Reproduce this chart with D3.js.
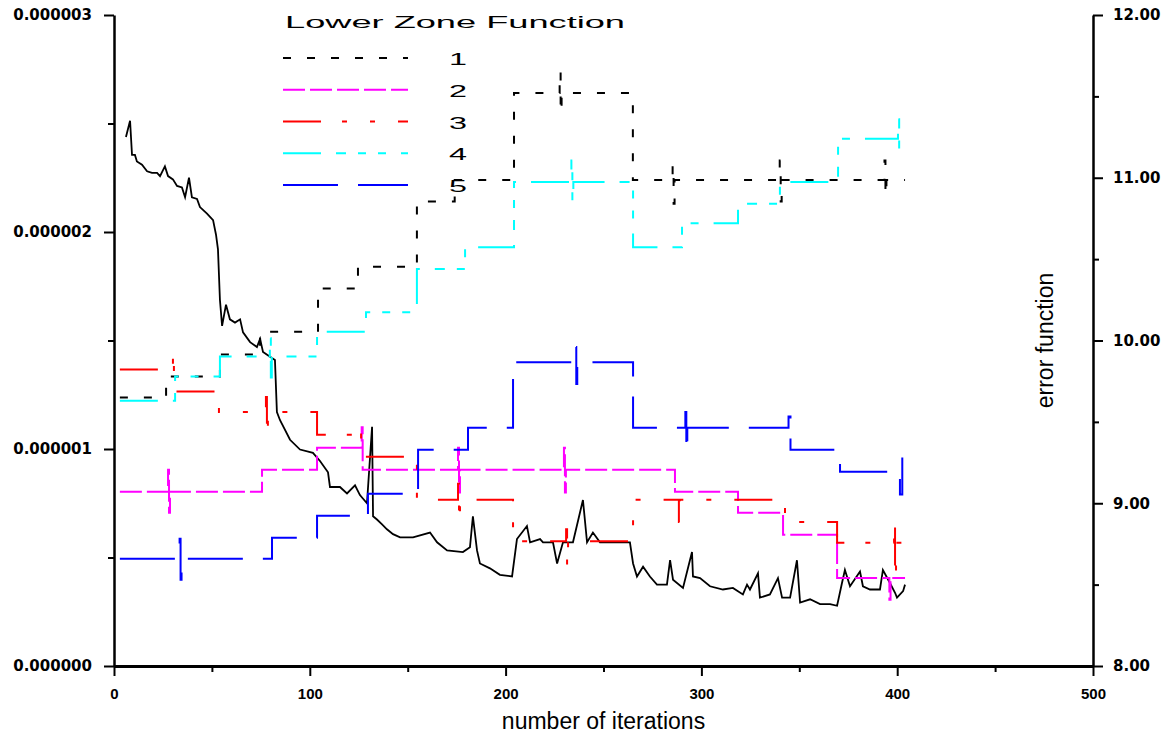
<!DOCTYPE html>
<html>
<head>
<meta charset="utf-8">
<script src="https://cdn.jsdelivr.net/npm/d3@7"></script>
<style>
  html, body { margin: 0; padding: 0; background: #fff; }
  svg { display: block; }
</style>
</head>
<body>
<svg id="chart" width="1169" height="742"></svg>
<script>
// Lower zone function parameters (left axis) and error function (right axis)
// plotted against the number of iterations.

const xTicks = [0, 100, 200, 300, 400, 500];
const xMinorTicks = [50, 150, 250, 350, 450];
const leftTicks = [0, 1e-6, 2e-6, 3e-6];
const leftMinorTicks = [0.5e-6, 1.5e-6, 2.5e-6];
const rightTicks = [8, 9, 10, 11, 12];
const rightMinorTicks = [8.5, 9.5, 10.5, 11.5];

const legendTitle = "Lower Zone Function";
const seriesNames = ["1", "2", "3", "4", "5"];
const seriesColors = ["#000000", "#ff00ff", "#ff0000", "#00ffff", "#0000ff"];
const seriesDashes = ["8,16", "22,5", "38,21,5,23,5,23", "38,15,10,12,8,12,8,15", "55,20"];

// step values, in units of 1e-6: [iteration, value]
const lowerZone1 = [[3,1.237],[26.6,1.334],[54.1,1.435],[74.6,1.54],[104.2,1.74],[124.6,1.84],[154.7,2.14],[174,2.24],[204.3,2.64],[227.6,2.74],[228.1,2.55],[228.6,2.64],[265,2.24],[285.3,2.31],[285.8,2.13],[286.3,2.24],[340,2.33],[340.5,2.14],[341,2.24],[393.5,2.33],[394,2.17],[394.5,2.24],[404,2.24]];
const lowerZone2 = [[3,0.803],[27.6,0.904],[28.1,0.706],[28.6,0.803],[75.6,0.904],[103.7,1.006],[126.5,1.10],[127,0.904],[175.7,1.006],[176.2,0.80],[176.7,0.904],[229.8,1.006],[230.3,0.80],[230.8,0.904],[286.5,0.803],[318.7,0.706],[341.7,0.605],[369.3,0.406],[396,0.305],[396.6,0.406],[404,0.406]];
const lowerZone3 = [[3,1.366],[30.1,1.45],[30.6,1.265],[53.6,1.17],[77.6,1.24],[78.1,1.066],[78.6,1.17],[103.7,1.066],[125.6,1.10],[126.2,0.964],[154.7,0.766],[175.7,0.84],[176.2,0.664],[176.7,0.766],[203.8,0.575],[230.9,0.63],[231.4,0.457],[231.9,0.575],[265.1,0.766],[288.5,0.664],[289,0.766],[342.7,0.664],[369.3,0.568],[398.4,0.664],[398.9,0.406],[399.4,0.568],[404,0.568]];
const lowerZone4 = [[3,1.222],[31.2,1.334],[54.1,1.426],[79.6,1.51],[80.1,1.33],[80.6,1.426],[103.7,1.54],[128.7,1.63],[154.7,1.83],[179.3,1.93],[204.3,2.23],[233.6,2.33],[234.1,2.14],[234.6,2.23],[265.1,1.93],[290.1,2.04],[318.7,2.13],[340.1,2.23],[369.8,2.43],[400.4,2.52],[401,2.36],[404,2.36]];
const lowerZone5 = [[3,0.494],[33.5,0.586],[34,0.397],[34.5,0.494],[80.7,0.591],[103.7,0.692],[129.7,0.794],[155.3,0.997],[180.8,1.098],[203.8,1.40],[235.6,1.47],[236.1,1.30],[236.6,1.40],[265.1,1.098],[291.8,1.17],[292.3,0.99],[292.8,1.098],[344.5,1.15],[345.5,0.997],[370.8,0.895],[401.4,0.79],[402.6,0.99],[404,0.99]];

// error function: [iteration, value]
const errorFunction = [[6.1,11.25],[8.2,11.35],[9.2,11.14],[10.7,11.14],[11.7,11.10],[14.3,11.08],[16.9,11.04],[19.4,11.03],[22.0,11.03],[23.5,11.01],[26.0,11.07],[27.6,11.01],[30.1,10.99],[32.2,10.95],[34.7,10.94],[36.3,10.88],[38.3,11.00],[39.8,10.88],[42.4,10.87],[43.9,10.82],[47.5,10.78],[50.6,10.74],[52.1,10.65],[53.1,10.56],[54.1,10.25],[55.2,10.09],[57.2,10.22],[59.2,10.13],[61.8,10.11],[64.4,10.13],[65.9,10.05],[69.5,9.99],[73.0,9.96],[74.6,10.01],[76.1,9.93],[79.7,9.90],[82.2,9.88],[83.2,9.56],[84.8,9.51],[89.9,9.39],[95.0,9.33],[101.6,9.31],[105.2,9.26],[109.3,9.19],[110.3,9.10],[115.4,9.10],[119.0,9.06],[123.1,9.11],[125.6,9.05],[129.2,9.00],[131.8,9.47],[132.3,8.92],[134.3,8.90],[136.9,8.87],[139.4,8.84],[142.5,8.81],[146.1,8.79],[152.7,8.79],[161.4,8.82],[165.0,8.76],[170.1,8.71],[178.2,8.70],[181.8,8.73],[183.3,8.92],[185.4,8.71],[186.9,8.63],[192.0,8.60],[197.1,8.56],[203.3,8.55],[205.8,8.78],[210.9,8.86],[212.5,8.76],[217.6,8.78],[219.1,8.76],[224.2,8.76],[226.3,8.63],[229.3,8.76],[234.4,8.76],[239.5,9.02],[241.6,8.76],[244.6,8.82],[248.2,8.76],[263.5,8.76],[265.1,8.63],[267.1,8.55],[270.2,8.61],[273.7,8.55],[277.3,8.50],[282.4,8.50],[284.0,8.65],[285.5,8.53],[290.6,8.48],[295.2,8.70],[295.7,8.55],[299.3,8.54],[304.4,8.49],[311.0,8.47],[316.1,8.48],[321.2,8.44],[323.3,8.50],[324.8,8.47],[328.9,8.57],[329.9,8.42],[335.0,8.44],[339.1,8.54],[341.2,8.42],[345.3,8.42],[348.8,8.65],[350.4,8.39],[355.5,8.41],[360.6,8.38],[365.7,8.38],[369.3,8.37],[371.8,8.51],[373.3,8.59],[375.9,8.49],[381.0,8.58],[382.5,8.49],[386.1,8.47],[391.2,8.47],[392.7,8.59],[396.3,8.51],[398.9,8.45],[399.9,8.42],[403.0,8.46],[404.0,8.50]];

const lowerZoneSeries = [lowerZone1, lowerZone2, lowerZone3, lowerZone4, lowerZone5];

const svg = d3.select("#chart");
const plot = { left: 114, right: 1093, top: 15, bottom: 666 };

const x = d3.scaleLinear().domain([0, 500]).range([plot.left, plot.right]);
const yLeft = d3.scaleLinear().domain([0, 3e-6]).range([plot.bottom, plot.top]);
const yRight = d3.scaleLinear().domain([8, 12]).range([plot.bottom, plot.top]);

const tickFont = "'DejaVu Sans', Verdana, sans-serif";
const titleFont = "'Liberation Sans', Arial, sans-serif";

function styleAxis(g) {
  g.select(".domain").attr("stroke", "#000").attr("stroke-width", 2.5);
  g.selectAll(".tick line").attr("stroke", "#000").attr("stroke-width", 2);
}

// minor ticks (no labels)
svg.append("g").attr("transform", `translate(${plot.left},0)`)
  .call(d3.axisLeft(yLeft).tickValues(leftMinorTicks).tickSize(6).tickFormat(""))
  .call(g => { g.select(".domain").remove(); g.selectAll("line").attr("stroke-width", 2); });
svg.append("g").attr("transform", `translate(${plot.right},0)`)
  .call(d3.axisRight(yRight).tickValues(rightMinorTicks).tickSize(6).tickFormat(""))
  .call(g => { g.select(".domain").remove(); g.selectAll("line").attr("stroke-width", 2); });
svg.append("g").attr("transform", `translate(0,${plot.bottom})`)
  .call(d3.axisBottom(x).tickValues(xMinorTicks).tickSize(6).tickFormat(""))
  .call(g => { g.select(".domain").remove(); g.selectAll("line").attr("stroke-width", 2); });

// left axis
svg.append("g").attr("transform", `translate(${plot.left},0)`)
  .call(d3.axisLeft(yLeft).tickValues(leftTicks).tickSize(10).tickSizeOuter(0).tickPadding(12).tickFormat(d3.format(".6f")))
  .call(styleAxis)
  .call(g => g.selectAll("text").attr("font-family", tickFont).attr("font-weight", "bold").attr("font-size", 15).attr("fill", "#000"));

// right axis
svg.append("g").attr("transform", `translate(${plot.right},0)`)
  .call(d3.axisRight(yRight).tickValues(rightTicks).tickSize(10).tickSizeOuter(0).tickPadding(10).tickFormat(d3.format(".2f")))
  .call(styleAxis)
  .call(g => g.selectAll("text").attr("font-family", tickFont).attr("font-weight", "bold").attr("font-size", 15).attr("fill", "#000"));

// bottom axis
svg.append("g").attr("transform", `translate(0,${plot.bottom})`)
  .call(d3.axisBottom(x).tickValues(xTicks).tickSize(10).tickSizeOuter(0).tickPadding(12).tickFormat(d3.format("d")))
  .call(styleAxis)
  .call(g => g.select(".domain").attr("stroke-width", 3))
  .call(g => g.selectAll("text").attr("font-family", titleFont).attr("font-weight", "bold").attr("font-size", 15).attr("fill", "#000"));

// axis titles
svg.append("text")
  .attr("x", (plot.left + plot.right) / 2).attr("y", 729)
  .attr("text-anchor", "middle")
  .attr("font-family", titleFont).attr("font-size", 23)
  .text("number of iterations");

svg.append("text")
  .attr("transform", `translate(1053,${(plot.top + plot.bottom) / 2}) rotate(-90)`)
  .attr("text-anchor", "middle")
  .attr("font-family", titleFont).attr("font-size", 23)
  .text("error function");

// error function on the right axis
const errLine = d3.line().x(d => x(d[0])).y(d => yRight(d[1]));
svg.append("path")
  .datum(errorFunction)
  .attr("d", errLine)
  .attr("fill", "none").attr("stroke", "#000").attr("stroke-width", 1.8)
  .attr("stroke-linejoin", "miter");

// lower zone step series on the left axis
const stepLine = d3.line().curve(d3.curveStepAfter).x(d => x(d[0])).y(d => yLeft(d[1] * 1e-6));
lowerZoneSeries.forEach((s, i) => {
  svg.append("path")
    .datum(s)
    .attr("d", stepLine)
    .attr("fill", "none")
    .attr("stroke", seriesColors[i])
    .attr("stroke-width", 2)
    .attr("stroke-dasharray", seriesDashes[i]);
});

// legend
const legend = svg.append("g");
legend.append("text")
  .attr("x", 285).attr("y", 28)
  .attr("font-family", titleFont).attr("font-size", 16)
  .attr("textLength", 340).attr("lengthAdjust", "spacingAndGlyphs")
  .text(legendTitle);

const legendY = d3.scalePoint().domain(seriesNames).range([58, 185]);
seriesNames.forEach((name, i) => {
  const yy = legendY(name);
  legend.append("line")
    .attr("x1", 283).attr("x2", 408).attr("y1", yy).attr("y2", yy)
    .attr("stroke", seriesColors[i]).attr("stroke-width", 2)
    .attr("stroke-dasharray", seriesDashes[i]);
  legend.append("text")
    .attr("x", 449).attr("y", yy + 7)
    .attr("font-family", titleFont).attr("font-size", 17)
    .attr("textLength", 18).attr("lengthAdjust", "spacingAndGlyphs")
    .text(name);
});
</script>
</body>
</html>
